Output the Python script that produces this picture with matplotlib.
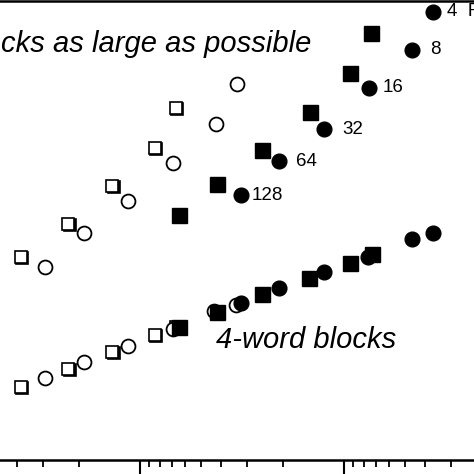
import numpy as np
import matplotlib
matplotlib.use("Agg")
import matplotlib.pyplot as plt
from matplotlib.transforms import offset_copy

plt.rcParams['font.family'] = ['Liberation Sans', 'DejaVu Sans']

# "blocks as large as possible" group
big_open_sq_x = [38.3, 22.5, 13.7, 8.44, 6.66]
big_open_sq_y = [203, 236, 274, 312, 352]
big_open_ci_x = [29.2, 18.8, 11.45, 6.89, 4.24, 3.35]
big_open_ci_y = [193, 227, 259, 297, 336, 376]
big_fill_sq_x = [6.44, 4.19, 2.52, 1.47, 0.935, 0.737]
big_fill_sq_y = [245, 276, 310, 348, 387, 427]
big_fill_ci_x = [3.20, 2.08, 1.25, 0.754, 0.464, 0.366]
big_fill_ci_y = [265, 299, 331, 372, 410, 448]
big_labels = ["128", "64", "32", "16", "8", "4  F"]

# "4-word blocks" group
small_open_sq_x = [38.3, 22.5, 13.7, 8.44, 6.66]
small_open_sq_y = [73, 91, 108, 125, 133]
small_open_ci_x = [29.2, 18.8, 11.45, 6.89, 4.35, 3.40]
small_open_ci_y = [82, 98, 114, 131, 149, 155]
small_fill_sq_x = [6.44, 4.19, 2.52, 1.49, 0.935, 0.730]
small_fill_sq_y = [133, 148, 166, 182, 197, 206]
small_fill_ci_x = [3.20, 2.08, 1.25, 0.76, 0.464, 0.366]
small_fill_ci_y = [157, 172, 188, 203, 221, 227]

fig = plt.figure(figsize=(4.74, 4.74), dpi=100)
ax = fig.add_axes([0, 14 / 474, 1, 459 / 474])

shadow = offset_copy(ax.transData, fig=fig, x=1.0, y=-1.0, units='points')

for sx, sy in [(big_open_sq_x, big_open_sq_y), (small_open_sq_x, small_open_sq_y)]:
    ax.plot(sx, sy, 's', ms=8.8, mfc='black', mec='black', mew=1.2,
            transform=shadow, zorder=2)
    ax.plot(sx, sy, 's', ms=8.8, mfc='white', mec='black', mew=1.2, zorder=3)

for cx, cy in [(big_open_ci_x, big_open_ci_y), (small_open_ci_x, small_open_ci_y)]:
    ax.plot(cx, cy, 'o', ms=10, mfc='white', mec='black', mew=1.3, zorder=3)

for fx, fy in [(big_fill_sq_x, big_fill_sq_y), (small_fill_sq_x, small_fill_sq_y)]:
    ax.plot(fx, fy, 's', ms=10.8, color='black', zorder=4)

for fx, fy in [(big_fill_ci_x, big_fill_ci_y), (small_fill_ci_x, small_fill_ci_y)]:
    ax.plot(fx, fy, 'o', ms=10.6, color='black', zorder=4)

label_dx = [8, 12, 13, 10, 13, 10]
for x, y, lab, dx in zip(big_fill_ci_x, big_fill_ci_y, big_labels, label_dx):
    ax.annotate(lab, (x, y), xytext=(dx, 0), textcoords='offset points',
                va='center', ha='left', fontsize=13.5, annotation_clip=False)

ax.text(1.44, 408, "blocks as large as possible", style='italic', fontsize=21,
        ha='right', va='baseline')
ax.text(4.24, 112, "4-word blocks", style='italic', fontsize=21,
        ha='left', va='baseline')

ax.set_xscale('log')
ax.set_xlim(48.57, 0.2306)
ax.set_ylim(0, 459)

for side in ['left', 'right']:
    ax.spines[side].set_visible(False)
for side in ['top', 'bottom']:
    ax.spines[side].set_linewidth(1.8)

ax.tick_params(axis='x', which='major', direction='out', length=11, width=1.5,
               labelbottom=False)
ax.tick_params(axis='x', which='minor', direction='out', length=5, width=1.3,
               labelbottom=False)
ax.set_yticks([])

fig.savefig("out.png", dpi=100)
